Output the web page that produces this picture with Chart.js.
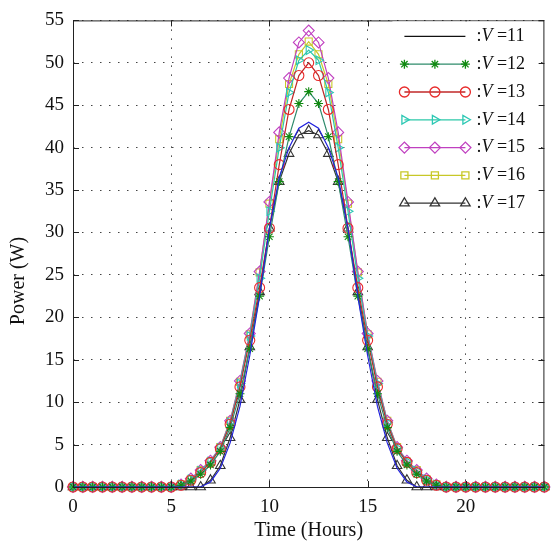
<!DOCTYPE html>
<html>
<head>
<meta charset="utf-8">
<script src="https://cdn.jsdelivr.net/npm/chart.js@4.4.1/dist/chart.umd.min.js"></script>
<style>
  html, body { margin: 0; padding: 0; background: #fff; }
</style>
</head>
<body>
<canvas id="powerChart" width="551" height="547"></canvas>
<script>
// Time axis (hours), one sample every half hour
const hours = [0,0.5,1,1.5,2,2.5,3,3.5,4,4.5,5,5.5,6,6.5,7,7.5,8,8.5,9,9.5,10,10.5,11,11.5,12,
               12.5,13,13.5,14,14.5,15,15.5,16,16.5,17,17.5,18,18.5,19,19.5,20,20.5,21,21.5,22,22.5,23,23.5,24];

// Power (W) for each voltage
const powerV11 = [0,0,0,0,0,0,0,0,0,0,0, 0,0,0,0.6,2.2,5.2,9.5,15.5,22.5,30.5,36.5,40.0,42.3,43.0,
                  42.3,40.0,36.5,30.5,22.5,15.5,9.5,5.2,2.2,0.6,0,0,0, 0,0,0,0,0,0,0,0,0,0,0];
const powerV12 = [0,0,0,0,0,0,0,0,0,0,0, 0.2,0.7,1.5,2.6,4.2,7.0,11.0,16.3,22.5,29.5,36.0,41.3,45.2,46.6,
                  45.2,41.3,36.0,29.5,22.5,16.3,11.0,7.0,4.2,2.6,1.5,0.7,0.2, 0,0,0,0,0,0,0,0,0,0,0];
const powerV13 = [0,0,0,0,0,0,0,0,0,0,0, 0.2,0.8,1.7,2.9,4.5,7.4,11.8,17.3,23.5,30.5,38.0,44.5,48.5,50.0,
                  48.5,44.5,38.0,30.5,23.5,17.3,11.8,7.4,4.5,2.9,1.7,0.8,0.2, 0,0,0,0,0,0,0,0,0,0,0];
const powerV14 = [0,0,0,0,0,0,0,0,0,0,0, 0.3,0.9,1.9,3.0,4.6,7.6,12.2,17.8,24.6,32.5,40.0,46.5,50.3,51.5,
                  50.3,46.5,40.0,32.5,24.6,17.8,12.2,7.6,4.6,3.0,1.9,0.9,0.3, 0,0,0,0,0,0,0,0,0,0,0];
const powerV15 = [0,0,0,0,0,0,0,0,0,0,0, 0.3,1.0,2.0,3.1,4.7,7.8,12.5,18.1,25.4,33.6,41.8,48.2,52.4,53.8,
                  52.4,48.2,41.8,33.6,25.4,18.1,12.5,7.8,4.7,3.1,2.0,1.0,0.3, 0,0,0,0,0,0,0,0,0,0,0];
const powerV16 = [0,0,0,0,0,0,0,0,0,0,0, 0.3,0.9,2.0,3.0,4.7,7.8,12.4,18.0,25.3,33.4,41.0,47.5,51.0,52.5,
                  51.0,47.5,41.0,33.4,25.3,18.0,12.4,7.8,4.7,3.0,2.0,0.9,0.3, 0,0,0,0,0,0,0,0,0,0,0];
const powerV17 = [0,0,0,0,0,0,0,0,0,0,0, 0,0,0,0.8,2.5,5.8,10.3,16.5,23.0,30.5,36.0,39.3,41.5,42.0,
                  41.5,39.3,36.0,30.5,23.0,16.5,10.3,5.8,2.5,0.8,0,0,0, 0,0,0,0,0,0,0,0,0,0,0];

const voltages = ['11', '12', '13', '14', '15', '16', '17'];
const xTicks = [0, 5, 10, 15, 20];
const yTicks = [0, 5, 10, 15, 20, 25, 30, 35, 40, 45, 50, 55];

const serif = '"Liberation Serif", "DejaVu Serif", serif';

function toPoints(vals) {
    return hours.map((h, i) => ({ x: h, y: vals[i] }));
}

function series(label, vals, line, point, style, radius, rotation, legendColor) {
    return {
        label: label,
        data: toPoints(vals),
        borderColor: line,
        borderWidth: 1.2,
        pointStyle: style,
        pointRadius: radius,
        pointRotation: rotation,
        pointBorderColor: point,
        pointBackgroundColor: 'rgba(0,0,0,0)',
        pointBorderWidth: 1.1,
        legendColor: legendColor || line,
        tension: 0,
        clip: 8
    };
}

// frame, inner ticks and the y title
const framePlugin = {
    id: 'frame',
    afterDatasetsDraw(chart) {
        const ctx = chart.ctx;
        const a = chart.chartArea;
        const xs = chart.scales.x, ys = chart.scales.y;
        ctx.save();
        ctx.strokeStyle = '#222';
        ctx.lineWidth = 1;
        ctx.strokeRect(a.left + 0.5, a.top + 0.5, a.right - a.left - 1, a.bottom - a.top);
        ctx.beginPath();
        xTicks.forEach(t => {
            const px = Math.round(xs.getPixelForValue(t)) + 0.5;
            ctx.moveTo(px, a.bottom); ctx.lineTo(px, a.bottom - 6);
            ctx.moveTo(px, a.top); ctx.lineTo(px, a.top + 6);
        });
        yTicks.forEach(t => {
            const py = Math.round(ys.getPixelForValue(t)) + 0.5;
            ctx.moveTo(a.left, py); ctx.lineTo(a.left + 6, py);
            ctx.moveTo(a.right, py); ctx.lineTo(a.right - 6, py);
        });
        ctx.stroke();

        ctx.translate(19, 281);
        ctx.rotate(-Math.PI / 2);
        ctx.fillStyle = '#111';
        ctx.font = '20px ' + serif;
        ctx.textAlign = 'center';
        ctx.textBaseline = 'middle';
        ctx.fillText('Power (W)', 0, 0);
        ctx.restore();
    }
};

// legend: line with three markers, ":V = xx"
const legendPlugin = {
    id: 'vlegend',
    afterDatasetsDraw(chart) {
        const ctx = chart.ctx;
        const a = chart.chartArea;
        const boxL = a.right - 152, boxT = a.top + 1;
        ctx.save();
        ctx.fillStyle = '#fff';
        ctx.fillRect(boxL, boxT, 146, 192);
        chart.data.datasets.forEach((ds, i) => {
            const y = boxT + 15 + i * 27.8;
            const x0 = boxL + 12, x1 = boxL + 73;
            ctx.strokeStyle = ds.legendColor;
            ctx.lineWidth = 1.3;
            ctx.beginPath();
            ctx.moveTo(x0, y); ctx.lineTo(x1, y);
            ctx.stroke();
            if (ds.pointRadius > 0) {
                ctx.strokeStyle = ds.pointBorderColor;
                ctx.fillStyle = 'rgba(0,0,0,0)';
                [x0, (x0 + x1) / 2, x1].forEach(px => {
                    Chart.helpers.drawPoint(ctx, {
                        pointStyle: ds.pointStyle,
                        radius: ds.pointRadius,
                        rotation: ds.pointRotation,
                        borderWidth: ds.pointBorderWidth
                    }, px, y);
                });
            }
            let tx = x1 + 11;
            ctx.fillStyle = '#111';
            ctx.textBaseline = 'middle';
            ctx.font = '18px ' + serif;
            ctx.fillText(':', tx, y);
            tx += ctx.measureText(':').width;
            ctx.font = 'italic 18px ' + serif;
            ctx.fillText('V', tx, y);
            tx += ctx.measureText('V').width;
            ctx.font = '18px ' + serif;
            ctx.fillText(' =' + ds.label, tx, y);
        });
        ctx.restore();
    }
};

const ctx = document.getElementById('powerChart').getContext('2d');
const powerChart = new Chart(ctx, {
    type: 'line',
    data: {
        datasets: [
            series(voltages[0], powerV11, '#2222dd', '#2222dd', false, 0, 0, '#111'),
            series(voltages[1], powerV12, '#2e8b6b', '#108a10', 'star', 4.5, 0),
            series(voltages[2], powerV13, '#c02828', '#e82a2a', 'circle', 5, 0),
            series(voltages[3], powerV14, '#2cc8a8', '#2cc8b4', 'triangle', 5, 90),
            series(voltages[4], powerV15, '#c040c0', '#c040c0', 'rectRot', 5.5, 0),
            series(voltages[5], powerV16, '#c8c828', '#c8c828', 'rect', 5, 0),
            series(voltages[6], powerV17, '#333333', '#333333', 'triangle', 5.5, 0)
        ]
    },
    options: {
        responsive: false,
        animation: false,
        layout: { padding: { top: 20, right: 3, left: 0, bottom: 0 } },
        plugins: {
            legend: { display: false },
            tooltip: { enabled: false }
        },
        scales: {
            x: {
                type: 'linear',
                min: 0,
                max: 24,
                afterFit: s => { s.height = 60; },
                afterBuildTicks: s => { s.ticks = xTicks.map(v => ({ value: v })); },
                ticks: { font: { family: serif, size: 19 }, color: '#111', padding: 9, maxRotation: 0 },
                grid: { color: '#444', lineWidth: 1, drawTicks: false },
                border: { display: false, dash: [1.5, 7.5] },
                title: { display: true, text: 'Time (Hours)', font: { family: serif, size: 20 }, color: '#111', padding: { top: 6 } }
            },
            y: {
                min: 0,
                max: 55,
                afterFit: s => { s.width = 73; },
                afterBuildTicks: s => { s.ticks = yTicks.map(v => ({ value: v })); },
                ticks: { font: { family: serif, size: 19 }, color: '#111', padding: 9 },
                grid: { color: '#444', lineWidth: 1, drawTicks: false },
                border: { display: false, dash: [1.5, 7.5] }
            }
        }
    },
    plugins: [framePlugin, legendPlugin]
});
</script>
</body>
</html>
